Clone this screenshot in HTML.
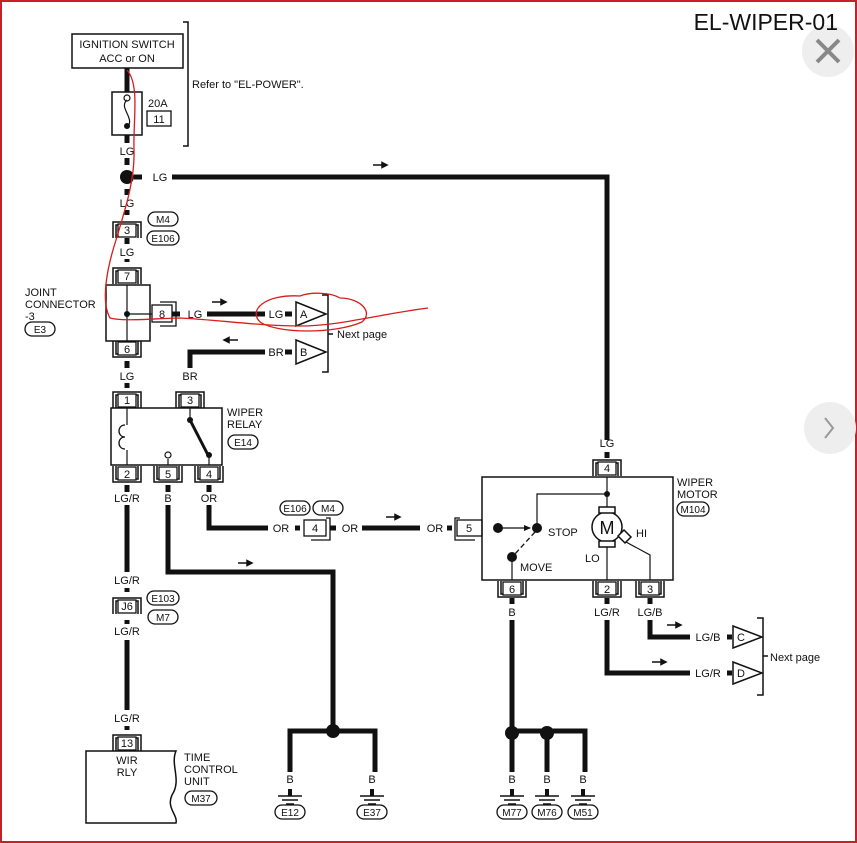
<!DOCTYPE html>
<html><head><meta charset="utf-8"><style>
html,body{margin:0;padding:0;background:#fff}
svg{display:block}
text{font-family:"Liberation Sans",sans-serif;fill:#111}
</style></head><body>
<svg width="857" height="843" viewBox="0 0 857 843" xmlns="http://www.w3.org/2000/svg">
<defs>
<g id="ct"><path d="M-14,8 V-8 H14 V8 M-11,8 V-5 H11 V8" fill="none" stroke="#111" stroke-width="1.5"/><rect x="-9" y="-6" width="18" height="13" fill="#fff" stroke="#111" stroke-width="1.3"/></g>
<g id="cb"><path d="M-14,-8 V8 H14 V-8 M-11,-8 V5 H11 V-8" fill="none" stroke="#111" stroke-width="1.5"/><rect x="-9" y="-7" width="18" height="13" fill="#fff" stroke="#111" stroke-width="1.3"/></g>
<g id="gnd"><line x1="0" y1="-7" x2="0" y2="0" stroke="#111" stroke-width="4"/><line x1="-12" y1="0" x2="12" y2="0" stroke="#111" stroke-width="1.5"/><line x1="-8" y1="4" x2="8" y2="4" stroke="#111" stroke-width="1.5"/><line x1="-4" y1="8" x2="4" y2="8" stroke="#111" stroke-width="1.5"/></g>
</defs>
<rect x="1" y="1" width="855" height="841" fill="#fff" stroke="#c8202a" stroke-width="2"/>

<circle cx="828" cy="51" r="26" fill="#eee"/>
<path d="M817,40 L839,62 M839,40 L817,62" stroke="#888" stroke-width="4"/>
<text x="838" y="30" font-size="23" text-anchor="end">EL-WIPER-01</text>
<circle cx="830" cy="428" r="26" fill="#eee"/>
<path d="M825,418 L833,428 L825,438" fill="none" stroke="#999" stroke-width="2"/>

<g fill="none" stroke="#111">
<rect x="72" y="34" width="111" height="34" stroke-width="1.5"/>
<path d="M183,22 H188 V146 H183" stroke-width="1.5"/>
<rect x="112" y="92" width="30" height="43" stroke-width="1.5"/>
<rect x="147" y="111" width="24" height="15" stroke-width="1.3"/>
<path d="M127,100 C118,108 136,118 127,128" stroke-width="1.2"/>
<circle cx="127" cy="98" r="3" stroke-width="1.2"/>
</g>
<text x="127" y="48" font-size="11" text-anchor="middle">IGNITION SWITCH</text>
<text x="127" y="62" font-size="11" text-anchor="middle">ACC or ON</text>
<text x="192" y="88" font-size="11">Refer to "EL-POWER".</text>
<text x="148" y="107" font-size="11">20A</text>
<text x="159" y="123" font-size="11" text-anchor="middle">11</text>
<circle cx="127" cy="126" r="3" fill="#111"/>

<g stroke="#111" stroke-width="5" fill="none">
<path d="M127,68 V92 M127,135 V143 M127,158 V165 M127,189 V195 M127,210 V215 M127,238 V244 M127,259 V262 M127,361 V368 M127,383 V388"/>
<path d="M172,177 H607 V440"/>
<path d="M134,177 H142"/>
<path d="M207,314 H265 M172,314 H180 M285,314 H292"/>
<path d="M265,352 H190 V368 M285,352 H292"/>
<path d="M127,485 V492 M127,505 V572 M127,588 V592 M127,620 V624 M127,640 V710 M127,726 V730"/>
<path d="M168,485 V492 M168,505 V572 H333 V731 M290,772 V731 H375 V772"/>
<path d="M209,485 V492 M209,505 V528 H268 M295,528 H300 M330,528 H336 M362,528 H420 M447,528 H452"/>
<path d="M607,452 V458 M512,598 V604 M607,598 V604 M650,598 V604"/>
<path d="M512,620 V772 M512,731 H585 V772 M547,731 V772"/>
<path d="M650,620 V637 H690 M727,637 H732"/>
<path d="M607,620 V673 H690 M727,673 H732"/>
</g>
<circle cx="127" cy="177" r="7" fill="#111"/>
<circle cx="333" cy="731" r="7" fill="#111"/>
<circle cx="512" cy="733" r="7" fill="#111"/>
<circle cx="547" cy="733" r="7" fill="#111"/>

<g font-size="11" text-anchor="middle">
<text x="127" y="155">LG</text><text x="160" y="181">LG</text><text x="127" y="207">LG</text>
<text x="127" y="256">LG</text><text x="195" y="318">LG</text><text x="276" y="318">LG</text>
<text x="276" y="356">BR</text><text x="127" y="380">LG</text><text x="190" y="380">BR</text>
<text x="127" y="502">LG/R</text><text x="168" y="502">B</text><text x="209" y="502">OR</text>
<text x="281" y="532">OR</text><text x="350" y="532">OR</text><text x="435" y="532">OR</text>
<text x="127" y="584">LG/R</text><text x="127" y="635">LG/R</text><text x="127" y="722">LG/R</text>
<text x="290" y="783">B</text><text x="372" y="783">B</text>
<text x="607" y="447">LG</text><text x="512" y="616">B</text><text x="607" y="616">LG/R</text><text x="650" y="616">LG/B</text>
<text x="708" y="641">LG/B</text><text x="708" y="677">LG/R</text>
<text x="512" y="783">B</text><text x="547" y="783">B</text><text x="583" y="783">B</text>
</g>

<g fill="#111" stroke="#111" stroke-width="1.5">
<path d="M373,165 H387"/><path d="M387,165 l-5,-2.5 v5z"/>
<path d="M212,302 H226"/><path d="M226,302 l-5,-2.5 v5z"/>
<path d="M238,340 H224"/><path d="M224,340 l5,-2.5 v5z"/>
<path d="M238,563 H252"/><path d="M252,563 l-5,-2.5 v5z"/>
<path d="M386,517 H400"/><path d="M400,517 l-5,-2.5 v5z"/>
<path d="M667,625 H681"/><path d="M681,625 l-5,-2.5 v5z"/>
<path d="M652,662 H666"/><path d="M666,662 l-5,-2.5 v5z"/>
</g>

<g fill="#fff" stroke="#111" stroke-width="1.5">
<path d="M296,302 L326,314 L296,326Z"/><path d="M296,340 L326,352 L296,364Z"/>
<path d="M733,626 L762,637 L733,648Z"/><path d="M733,662 L762,673 L733,684Z"/>
<path d="M322,295 H328 V372 H322 M328,334 H333" fill="none"/>
<path d="M757,618 H763 V695 H757 M763,656 H768" fill="none"/>
</g>
<g font-size="11">
<text x="300" y="318">A</text><text x="300" y="356">B</text>
<text x="737" y="641">C</text><text x="737" y="677">D</text>
<text x="337" y="338">Next page</text><text x="770" y="661">Next page</text>
</g>

<use href="#ct" x="127" y="230"/><text x="127" y="234" font-size="11" text-anchor="middle">3</text>
<use href="#ct" x="127" y="276"/><text x="127" y="280" font-size="11" text-anchor="middle">7</text>
<use href="#cb" x="127" y="349"/><text x="127" y="353" font-size="11" text-anchor="middle">6</text>
<use href="#ct" x="127" y="400"/><text x="127" y="404" font-size="11" text-anchor="middle">1</text>
<use href="#ct" x="190" y="400"/><text x="190" y="404" font-size="11" text-anchor="middle">3</text>
<use href="#cb" x="127" y="474"/><text x="127" y="478" font-size="11" text-anchor="middle">2</text>
<use href="#cb" x="168" y="474"/><text x="168" y="478" font-size="11" text-anchor="middle">5</text>
<use href="#cb" x="209" y="474"/><text x="209" y="478" font-size="11" text-anchor="middle">4</text>
<use href="#ct" x="127" y="606"/><text x="127" y="610" font-size="11" text-anchor="middle">J6</text>
<use href="#ct" x="127" y="743"/><text x="127" y="747" font-size="11" text-anchor="middle">13</text>
<use href="#ct" x="607" y="468"/><text x="607" y="472" font-size="11" text-anchor="middle">4</text>
<use href="#cb" x="512" y="589"/><text x="512" y="593" font-size="11" text-anchor="middle">6</text>
<use href="#cb" x="607" y="589"/><text x="607" y="593" font-size="11" text-anchor="middle">2</text>
<use href="#cb" x="650" y="589"/><text x="650" y="593" font-size="11" text-anchor="middle">3</text>
<rect x="304" y="520" width="22" height="16" fill="#fff" stroke="#111" stroke-width="1.3"/>
<path d="M326,518 H330 V540 H311" fill="none" stroke="#111" stroke-width="1.3"/>
<text x="315" y="532" font-size="11" text-anchor="middle">4</text>
<rect x="457" y="520" width="25" height="16" fill="#fff" stroke="#111" stroke-width="1.3"/>
<path d="M460,518 H455 V540 H475" fill="none" stroke="#111" stroke-width="1.3"/>
<text x="469" y="532" font-size="11" text-anchor="middle">5</text>
<rect x="152" y="305" width="20" height="17" fill="#fff" stroke="#111" stroke-width="1.3"/>
<path d="M160,302 H176 V326 H160" fill="none" stroke="#111" stroke-width="1.3"/>
<text x="162" y="318" font-size="11" text-anchor="middle">8</text>

<g fill="none" stroke="#111" stroke-width="1.5">
<rect x="106" y="285" width="44" height="56"/>
<path d="M127,285 V341 M127,314 H152" stroke-width="1.2"/>
</g>
<circle cx="127" cy="314" r="3" fill="#111"/>
<g font-size="11"><text x="25" y="296">JOINT</text><text x="25" y="308">CONNECTOR</text><text x="25" y="320">-3</text></g>

<g fill="none" stroke="#111" stroke-width="1.5">
<rect x="111" y="408" width="111" height="57"/>
<path d="M127,408 V425 M127,450 V465" stroke-width="1.2"/>
<path d="M125,425 c-8,0 -8,12 0,12 c-8,0 -8,12 0,12" stroke-width="1.3"/>
<path d="M190,408 V420" stroke-width="1.2"/>
<path d="M190,420 L208,455" stroke-width="3"/>
<path d="M209,455 V465 M168,459 V465" stroke-width="1.2"/>
<circle cx="168" cy="455" r="3" stroke-width="1.2"/>
</g>
<circle cx="190" cy="420" r="3" fill="#111"/><circle cx="209" cy="455" r="3" fill="#111"/>
<g font-size="11"><text x="227" y="416">WIPER</text><text x="227" y="428">RELAY</text></g>

<path d="M86,751 H176 C170,765 182,780 172,795 C166,808 178,815 176,823 H86Z" fill="none" stroke="#111" stroke-width="1.5"/>
<g font-size="11" text-anchor="middle"><text x="127" y="764">WIR</text><text x="127" y="776">RLY</text></g>
<g font-size="11"><text x="184" y="761">TIME</text><text x="184" y="773">CONTROL</text><text x="184" y="785">UNIT</text></g>

<g fill="none" stroke="#111" stroke-width="1.5">
<rect x="482" y="477" width="191" height="103"/>
<path d="M607,477 V508 M607,494 H537 V528 M607,546 V580 M512,557 V580" stroke-width="1.2"/>
<path d="M626,542 L650,555 V580" stroke-width="1.2"/>
<circle cx="607" cy="527" r="15"/>
<rect x="599" y="507" width="16" height="6" fill="#fff"/>
<rect x="599" y="541" width="16" height="6" fill="#fff"/>
<path d="M618,536 l6,-6 l7,7 l-6,6z" fill="#fff"/>
<path d="M498,528 H530" stroke-width="1.2"/>
<path d="M535,532 L514,555" stroke-dasharray="5,3" stroke-width="1.3"/>
</g>
<path d="M531,528 l-7,-3 v6z" fill="#111"/>
<circle cx="607" cy="494" r="3" fill="#111"/>
<circle cx="498" cy="528" r="5" fill="#111"/><circle cx="537" cy="528" r="5" fill="#111"/><circle cx="512" cy="557" r="5" fill="#111"/>
<text x="607" y="534" font-size="18" text-anchor="middle">M</text>
<g font-size="11"><text x="548" y="536">STOP</text><text x="520" y="571">MOVE</text><text x="636" y="537">HI</text><text x="585" y="562">LO</text>
<text x="677" y="486">WIPER</text><text x="677" y="498">MOTOR</text></g>

<use href="#gnd" x="290" y="796"/><use href="#gnd" x="372" y="796"/>
<use href="#gnd" x="512" y="796"/><use href="#gnd" x="547" y="796"/><use href="#gnd" x="583" y="796"/>

<g fill="#fff" stroke="#111" stroke-width="1.3">
<rect x="148" y="212" width="30" height="14" rx="7"/><rect x="147" y="231" width="32" height="14" rx="7"/>
<rect x="25" y="322" width="30" height="14" rx="7"/>
<rect x="228" y="435" width="30" height="14" rx="7"/>
<rect x="280" y="501" width="30" height="14" rx="7"/><rect x="313" y="501" width="30" height="14" rx="7"/>
<rect x="147" y="591" width="32" height="14" rx="7"/><rect x="148" y="610" width="30" height="14" rx="7"/>
<rect x="185" y="791" width="32" height="14" rx="7"/>
<rect x="275" y="805" width="30" height="14" rx="7"/><rect x="357" y="805" width="30" height="14" rx="7"/>
<rect x="677" y="502" width="32" height="14" rx="7"/>
<rect x="497" y="805" width="30" height="14" rx="7"/><rect x="532" y="805" width="30" height="14" rx="7"/><rect x="568" y="805" width="30" height="14" rx="7"/>
</g>
<g font-size="10" text-anchor="middle">
<text x="163" y="223">M4</text><text x="163" y="242">E106</text><text x="40" y="333">E3</text>
<text x="243" y="446">E14</text><text x="295" y="512">E106</text><text x="328" y="512">M4</text>
<text x="163" y="602">E103</text><text x="163" y="621">M7</text><text x="201" y="802">M37</text>
<text x="290" y="816">E12</text><text x="372" y="816">E37</text><text x="693" y="513">M104</text>
<text x="512" y="816">M77</text><text x="547" y="816">M76</text><text x="583" y="816">M51</text>
</g>

<g fill="none" stroke="#d81c1c" stroke-width="1.3">
<path d="M127,70 C140,85 133,120 134,150 C135,180 125,210 116,240 C108,265 100,300 110,318 C125,322 160,318 180,318 C220,320 260,326 300,326 C340,326 380,314 428,308"/>
<path d="M300,296 C265,294 248,310 260,322 C278,334 335,334 362,322 C374,312 360,298 340,298 C330,292 310,292 300,296 Z"/>
</g>
</svg>
</body></html>
